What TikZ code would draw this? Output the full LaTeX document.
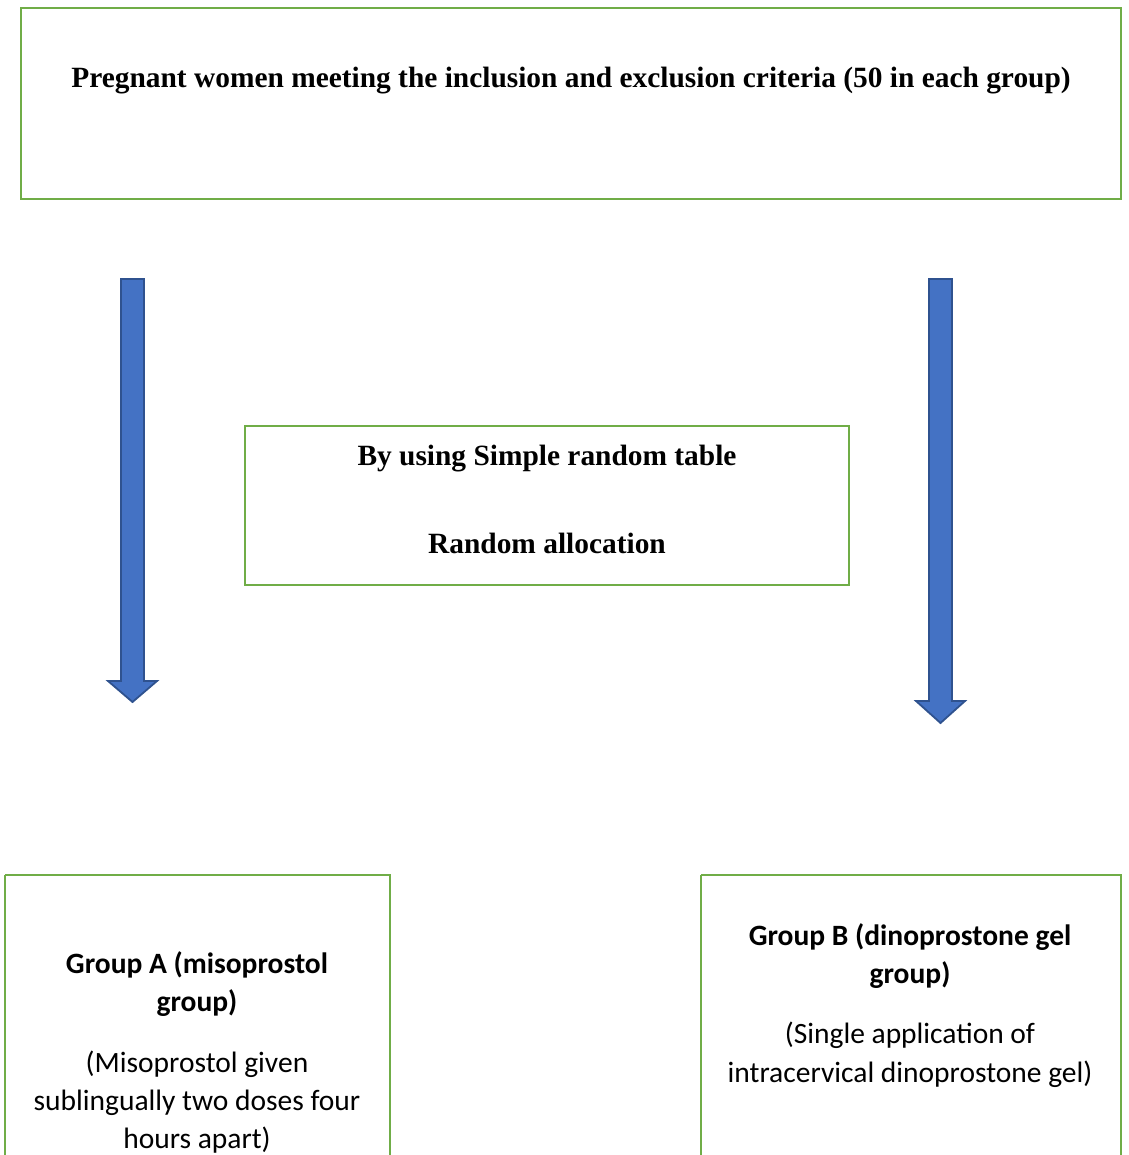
\documentclass[tikz,border=0pt]{standalone}
\usepackage{fontspec}
\setmainfont{Liberation Serif}
\newfontfamily\calibri{Carlito}
\definecolor{boxgreen}{HTML}{70AD47}
\definecolor{arrowfill}{HTML}{4472C4}
\definecolor{arrowline}{HTML}{2F528F}
\begin{document}
\begin{tikzpicture}[x=1pt,y=-1pt,
  greenbox/.style={draw=boxgreen,line width=2.8pt},
  blockarrow/.style={fill=arrowfill,draw=arrowline,line width=1.8pt,line join=miter},
  serifbold/.style={font=\fontsize{29.4}{34}\selectfont\bfseries,inner sep=0pt,anchor=base},
  calbold/.style={font=\calibri\fontsize{29.5}{38}\selectfont\bfseries,inner sep=0pt,anchor=base},
  calnorm/.style={font=\calibri\fontsize{29.5}{38}\selectfont,inner sep=0pt,anchor=base}]
\useasboundingbox (0,0) rectangle (1128,1155);
\clip (0,0) rectangle (1128,1155);
\fill[white] (0,0) rectangle (1128,1155);
% top box
\draw[greenbox] (21,8) rectangle (1121,199);
\node[serifbold] (top) at (571,88) {Pregnant women meeting the inclusion and exclusion criteria (50 in each group)};
% middle box
\draw[greenbox] (245,426) rectangle (849,585);
\node[serifbold] (mid1) at (547,465) {By using Simple random table};
\node[serifbold] (mid2) at (547,553) {Random allocation};
% arrows
\coordinate (la) at (132.5,279);
\coordinate (ra) at (940.5,279);
\draw[blockarrow] (121,279) -- (144,279) -- (144,681) -- (157,681) -- (132.5,702) -- (108,681) -- (121,681) -- cycle;
\draw[blockarrow] (929,279) -- (952,279) -- (952,701) -- (965,701) -- (940.5,723) -- (916,701) -- (929,701) -- cycle;
% group A
\draw[greenbox] (5,875) -- (5,1170) (5,875) -- (390,875) -- (390,1170);
\node[calbold] (a1) at (197,973) {Group A (misoprostol};
\node[calbold] (a2) at (197,1011) {group)};
\node[calnorm] (a3) at (197,1072) {(Misoprostol given};
\node[calnorm] (a4) at (197,1110) {sublingually two doses four};
\node[calnorm] (a5) at (197,1148) {hours apart)};
% group B
\draw[greenbox] (701,875) -- (701,1170) (701,875) -- (1121,875) -- (1121,1170);
\node[calbold] (b1) at (910,945) {Group B (dinoprostone gel};
\node[calbold] (b2) at (910,983) {group)};
\node[calnorm] (b3) at (910,1043) {(Single application of};
\node[calnorm] (b4) at (910,1082) {intracervical dinoprostone gel)};
\end{tikzpicture}
\end{document}
